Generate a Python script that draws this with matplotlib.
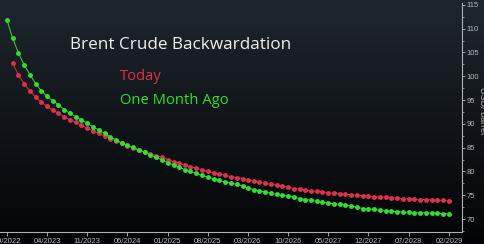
import numpy as np
import pandas as pd
import matplotlib
matplotlib.use('Agg')
import matplotlib.pyplot as plt
from matplotlib.ticker import MultipleLocator

# ---- data ----
one_month_ago_start = '2022-09-01'
today_start = '2022-10-01'

one_month_ago = [
    111.8, 108.0, 104.9, 102.4, 100.3, 98.4, 97.0, 95.8, 94.9, 94.0,
    93.0, 92.2, 91.5, 90.8, 90.1, 89.4, 88.7, 88.0, 87.3, 86.6, 86.0,
    85.5, 85.1, 84.5, 84.0, 83.4, 83.0, 82.4, 81.8, 81.4, 80.9,
    80.4, 80.0, 79.6, 79.2, 78.8, 78.5, 78.1, 77.8, 77.5, 77.3,
    76.9, 76.5, 76.2, 75.9, 75.7, 75.4, 75.2, 75.0, 74.8, 74.6,
    74.3, 74.1, 73.9, 73.7, 73.5, 73.4, 73.2, 73.1, 72.9, 72.7,
    72.5, 72.2, 72.1, 72.0, 71.8, 71.7, 71.6, 71.5, 71.5, 71.4,
    71.3, 71.3, 71.3, 71.2, 71.2, 71.1, 71.1,
]
today = [
    102.7, 100.3, 98.4, 96.9, 95.6, 94.6, 93.7, 92.9, 92.2, 91.5,
    90.9, 90.3, 89.7, 89.1, 88.5, 88.0, 87.4, 86.9, 86.4,
    85.9, 85.4, 84.9, 84.5, 84.1,
    83.7, 83.3, 83.0, 82.5, 82.0, 81.7, 81.3, 81.0, 80.7, 80.3,
    80.0, 79.7, 79.5, 79.2, 78.9, 78.7,
    78.5, 78.2, 78.0, 77.7, 77.5, 77.3, 77.1, 76.9, 76.7, 76.4,
    76.3, 76.1, 75.9, 75.8, 75.7, 75.5, 75.4, 75.3, 75.2, 75.1,
    75.0, 74.9, 74.8, 74.7, 74.6, 74.6, 74.5, 74.4, 74.3, 74.3,
    74.2, 74.1, 74.1, 74.0, 73.9, 73.9, 73.8,
]
xtick_labels = ['09/2022', '04/2023', '11/2023', '06/2024', '01/2025', '08/2025',
                '03/2026', '10/2026', '05/2027', '12/2027', '07/2028', '02/2029']
ytick_values = [70, 75, 80, 85, 90, 95, 100, 105, 110, 115]

title = 'Brent Crude Backwardation'
today_label = 'Today'
ago_label = 'One Month Ago'
y_label = 'USD/ barrel'

# ---- figure ----
W, H = 485, 244
fig = plt.figure(figsize=(W / 100, H / 100), dpi=100)

# gradient background
bg = fig.add_axes([0, 0, 1, 1], zorder=-10)
top = np.array([31, 38, 45]) / 255
bot = np.array([3, 4, 6]) / 255
t = np.linspace(0, 1, 256)[:, None]
grad = (top[None, :] * (1 - t) + bot[None, :] * t)
grad = np.repeat(grad[:, None, :], 2, axis=1)
bg.imshow(grad, aspect='auto', extent=[0, 1, 0, 1], interpolation='bilinear')
bg.set_axis_off()

ax = fig.add_axes([0, 12 / H, 462 / W, (232 - 3) / H])
ax.set_facecolor('none')

gx = pd.date_range(one_month_ago_start, periods=len(one_month_ago), freq='MS')
rx = pd.date_range(today_start, periods=len(today), freq='MS')

red = '#e0304c'
green = '#2fe02f'
ax.plot(gx, one_month_ago, color=green, lw=0.7, marker='o', ms=3.5,
        markeredgewidth=0, zorder=3)
ax.plot(rx, today, color=red, lw=0.7, marker='o', ms=3.5,
        markeredgewidth=0, zorder=2)

ax.set_xlim(pd.Timestamp('2022-07-26'), pd.Timestamp('2029-04-10'))
ax.set_ylim(67.27, 115.4)

xt = [pd.to_datetime(s, format='%m/%Y') for s in xtick_labels]
ax.set_xticks(xt)
ax.set_xticklabels(xtick_labels)
ax.yaxis.tick_right()
ax.set_yticks(ytick_values)
ax.set_yticklabels([str(v) for v in ytick_values])
ax.yaxis.set_minor_locator(MultipleLocator(2.5))

tick_col = '#bdbdbd'
for s in ['top', 'left']:
    ax.spines[s].set_visible(False)
ax.spines['right'].set_color('#b0b0b0')
ax.spines['bottom'].set_color('#b0b0b0')
ax.spines['right'].set_linewidth(0.8)
ax.spines['bottom'].set_linewidth(0.8)

ax.tick_params(axis='x', colors=tick_col, labelsize=5.5, length=3, width=0.6,
               pad=1, direction='out')
ax.tick_params(axis='y', which='major', colors=tick_col, labelsize=5.4,
               length=2.5, width=0.6, pad=1, direction='out')
ax.tick_params(axis='y', which='minor', colors=tick_col, length=1.5, width=0.5,
               direction='out')
for lab in ax.get_xticklabels() + ax.get_yticklabels():
    lab.set_fontfamily('Liberation Sans')

fig.text(70 / W, 1 - 45 / H, title, color='#f0f0f0', fontsize=12.3,
         family='Open Sans', ha='left', va='center')
fig.text(120 / W, 1 - 76 / H, today_label, color=red, fontsize=10.6,
         family='Open Sans', ha='left', va='center')
fig.text(120 / W, 1 - 101 / H, ago_label, color=green, fontsize=10.6,
         family='Open Sans', ha='left', va='center')
fig.text(483 / W, 1 - 111 / H, y_label, color='#b0b0b0', fontsize=6.5,
         family='Liberation Sans', ha='center', va='center', rotation=270)

fig.savefig('out.png', dpi=100)
